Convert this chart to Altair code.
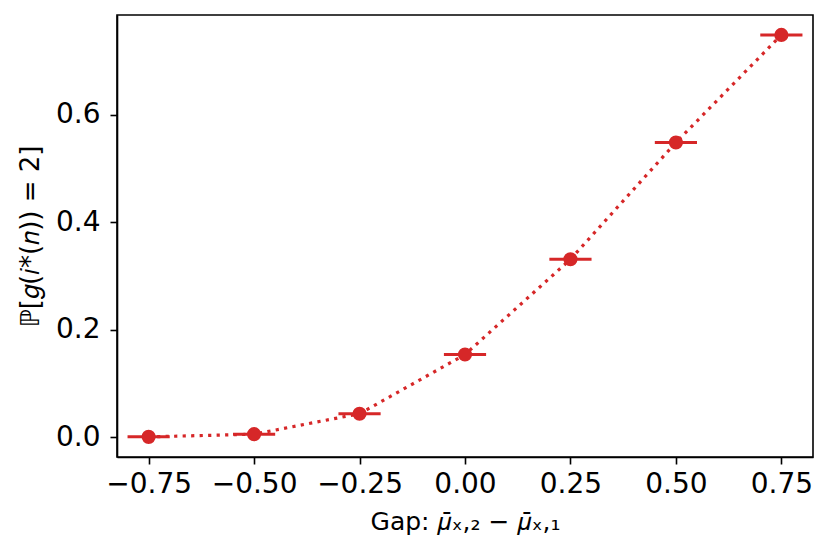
import altair as alt
import pandas as pd

gap = [-0.75, -0.5, -0.25, 0.0, 0.25, 0.5, 0.75]
prob = [0.001, 0.006, 0.044, 0.154, 0.331, 0.548, 0.748]
xerr = [0.05, 0.05, 0.05, 0.05, 0.05, 0.05, 0.05]
x_ticks = [-0.75, -0.5, -0.25, 0.0, 0.25, 0.5, 0.75]
y_ticks = [0.0, 0.2, 0.4, 0.6]

df = pd.DataFrame({"gap": gap, "prob": prob, "err": xerr})
df["lo"] = df["gap"] - df["err"]
df["hi"] = df["gap"] + df["err"]

RED = "#d62728"
FONT = "DejaVu Sans"

xs = alt.Scale(domain=[-0.825, 0.825], nice=False, zero=False)
ys = alt.Scale(domain=[-0.0364, 0.785], nice=False, zero=False)

xaxis = alt.Axis(values=x_ticks, format=".2f", grid=False, tickSize=7, tickWidth=1.6,
                 tickColor="black", domainColor="black", domainWidth=1.6,
                 labelFont=FONT, labelFontSize=28, labelColor="black", labelPadding=6,
                 title="Gap: 𝜇̄ₓ,₂ − 𝜇̄ₓ,₁", titleFont=FONT, titleFontSize=25,
                 titleFontWeight="normal", titleColor="black", titlePadding=11)
yaxis = alt.Axis(values=y_ticks, format=".1f", grid=False, tickSize=7, tickWidth=1.6,
                 tickColor="black", domainColor="black", domainWidth=1.6,
                 labelFont=FONT, labelFontSize=28, labelColor="black", labelPadding=10,
                 title="ℙ[𝑔(𝑖*(𝑛)) = 2]", titleFont=FONT, titleFontSize=26,
                 titleFontWeight="normal", titleColor="black", titlePadding=12)

base = alt.Chart(df)

line = base.mark_line(color=RED, strokeWidth=3.2, strokeDash=[3.2, 5.3]).encode(
    x=alt.X("gap:Q", scale=xs, axis=xaxis),
    y=alt.Y("prob:Q", scale=ys, axis=yaxis),
)
err = base.mark_rule(color=RED, strokeWidth=3).encode(
    x=alt.X("lo:Q", scale=xs),
    x2="hi:Q",
    y=alt.Y("prob:Q", scale=ys),
)
pts = base.mark_circle(color=RED, opacity=1, size=200).encode(
    x=alt.X("gap:Q", scale=xs),
    y=alt.Y("prob:Q", scale=ys),
)

chart = alt.layer(line, err, pts).properties(
    width=696, height=442,
    autosize=alt.AutoSizeParams(type="none"),
    padding={"left": 109, "top": 7, "right": 9, "bottom": 93},
    background="white",
).configure_view(stroke="black", strokeWidth=1.6)

chart.save("out.html", embed_options={"renderer": "svg", "actions": False})
